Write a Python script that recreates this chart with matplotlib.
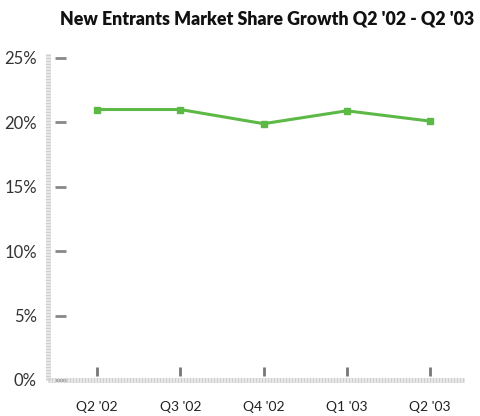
import matplotlib.pyplot as plt
import matplotlib.transforms as mtransforms

quarters = ["Q2 '02", "Q3 '02", "Q4 '02", "Q1 '03", "Q2 '03"]
share = [21.0, 21.0, 19.9, 20.9, 20.1]
yticks = [0, 5, 10, 15, 20, 25]

plt.rcParams['font.family'] = ['Lato', 'DejaVu Sans']

fig = plt.figure(figsize=(4.81, 4.16), dpi=100)
ax = fig.add_axes([48 / 481, 1 - 380 / 416, (465 - 48) / 481, (380 - 54) / 416])

x = list(range(len(quarters)))
ax.plot(x, share, color='#5cb946', lw=2.2, marker='s', ms=5, zorder=3)

ax.set_xlim(-0.59, 4.42)
ax.set_ylim(0, 25 * 326 / 322)

for s in ['top', 'right']:
    ax.spines[s].set_visible(False)
for s in ['left', 'bottom']:
    sp = ax.spines[s]
    sp.set_color('#d0d0d0')
    sp.set_linewidth(3.6)
    sp.set_linestyle((0, (0.4, 0.2)))
    sp.set_capstyle('butt')

ax.tick_params(length=0)
ax.set_yticks(yticks)
ax.set_yticklabels([f"{v}%" for v in yticks], fontsize=12, color='#333333')
ax.tick_params(axis='y', pad=8)
ax.set_xticks(x)
ax.set_xticklabels(quarters, fontsize=10, color='#222222')
ax.tick_params(axis='x', pad=15)

# offset tick dashes
ty = mtransforms.blended_transform_factory(ax.transAxes, ax.transData)
ax.hlines(yticks, 7 / 417, 18 / 417, transform=ty, color='#888888', lw=2, clip_on=False)
tx = mtransforms.blended_transform_factory(ax.transData, ax.transAxes)
ax.vlines(x, 4 / 326, 13 / 326, transform=tx, color='#777777', lw=2, clip_on=False)

fig.text(267 / 481, 1 - 19 / 416, "New Entrants Market Share Growth Q2 '02 - Q2 '03",
         ha='center', va='center', fontsize=12.8, fontweight='heavy', color='#111111')

fig.savefig('out.png', dpi=100)
